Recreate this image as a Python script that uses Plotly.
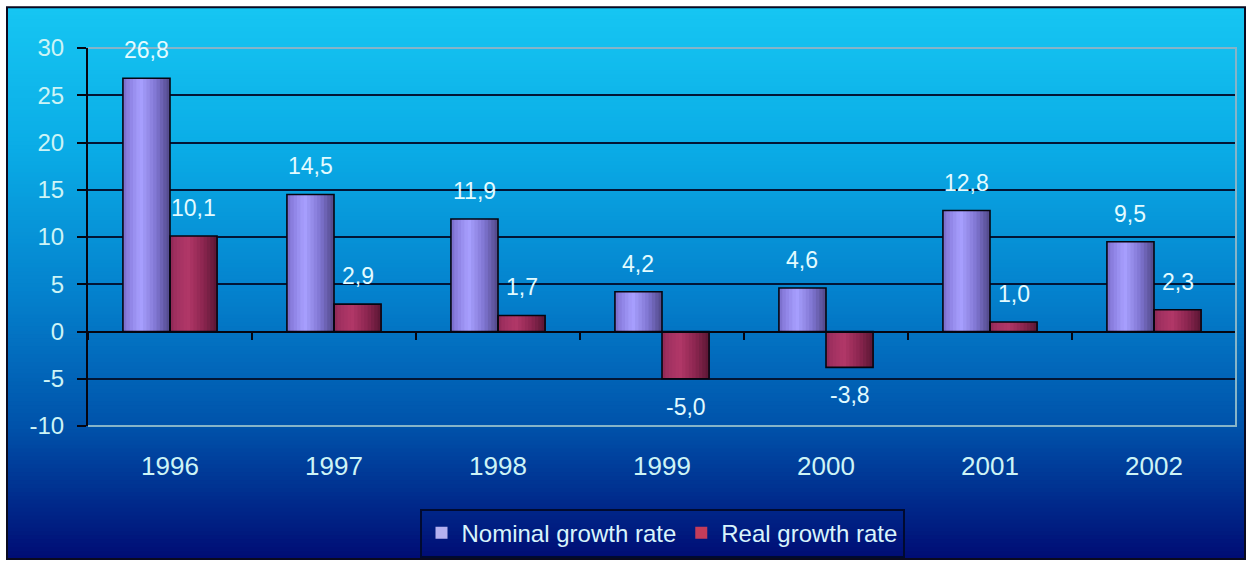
import plotly.graph_objects as go

# ---- data ----
years = ["1996", "1997", "1998", "1999", "2000", "2001", "2002"]
nominal = [26.8, 14.5, 11.9, 4.2, 4.6, 12.8, 9.5]
real = [10.1, 2.9, 1.7, -5.0, -3.8, 1.0, 2.3]
y_ticks = [-10, -5, 0, 5, 10, 15, 20, 25, 30]
y_ticktext = ["-10", "-5", "0", "5", "10", "15", "20", "25", "30"]

# ---- geometry helpers (figure pixels -> paper coords) ----
W, H = 1250, 570
ML, MR, MT, MB = 88, 14, 48, 141
PW, PH = W - ML - MR, H - MT - MB


def PX(px):
    return (px - ML) / PW


def PY(py):
    return (H - MB - py) / PH


def lerp(c1, c2, t):
    return tuple(c1[i] + (c2[i] - c1[i]) * t for i in range(3))


def grad(stops, t):
    for (t0, c0), (t1, c1) in zip(stops, stops[1:]):
        if t0 <= t <= t1:
            return lerp(c0, c1, (t - t0) / (t1 - t0) if t1 > t0 else 0)
    return stops[-1][1]


def rgb(c):
    return "rgb(%d,%d,%d)" % tuple(int(round(v)) for v in c)


xs = list(range(len(years)))
w = 0.287  # bar width in category units
N = 14     # shading strips

nom_prof = [(0.0, (118, 106, 200)), (0.12, (140, 128, 225)), (0.38, (168, 160, 255)),
            (0.7, (128, 118, 210)), (1.0, (80, 72, 135))]
real_prof = [(0.0, (140, 40, 85)), (0.12, (160, 48, 96)), (0.38, (178, 56, 104)),
             (0.7, (140, 38, 80)), (1.0, (90, 22, 52))]

fig = go.Figure()

for name, vals, prof, off0, legc in [
    ("Nominal growth rate", nominal, nom_prof, -w, "rgb(180,176,240)"),
    ("Real growth rate", real, real_prof, 0.0, "rgb(196,60,90)"),
]:
    for k in range(N):
        t = (k + 0.5) / N
        fig.add_trace(go.Bar(
            x=xs, y=vals, width=w - k * w / N, offset=off0 + k * w / N,
            marker=dict(color=rgb(grad(prof, t)), line=dict(width=0)),
            showlegend=False, hoverinfo="skip", name=name,
        ))
    # outline
    fig.add_trace(go.Bar(
        x=xs, y=vals, width=w, offset=off0, xaxis="x2",
        marker=dict(color="rgba(0,0,0,0)", line=dict(color="#050510", width=1.6)),
        showlegend=False, hoverinfo="skip", name=name,
    ))
    # legend entry
    fig.add_trace(go.Bar(
        x=[None], y=[None], name=name,
        marker=dict(color=legc, line=dict(width=0)),
        showlegend=True,
    ))

# ---- data labels ----
lab_color = "#e2fbff"
annotations = []
for vals, sign in [(nominal, -1), (real, 1)]:
    for i, v in enumerate(vals):
        annotations.append(dict(
            x=i + sign * w / 2, y=v, xref="x", yref="y",
            text=f"{v:.1f}".replace(".", ","), showarrow=False,
            yshift=28 if v >= 0 else -28, yanchor="middle",
            font=dict(family="Liberation Sans, Arial, sans-serif", size=23, color=lab_color),
        ))

# ---- background gradient (overlapping strips, no seams) ----
bg_stops = [(7, (22, 198, 242)), (150, (10, 172, 230)), (300, (4, 128, 204)),
            (430, (0, 82, 170)), (563, (0, 12, 116))]
shapes = []
NS = 140
top, bot = 7, 563
for k in range(NS):
    y0 = top + (bot - top) * k / NS
    y1 = top + (bot - top) * (k + 1) / NS
    col = grad(bg_stops, (y0 + y1) / 2)
    shapes.append(dict(type="rect", xref="paper", yref="paper", layer="below",
                       x0=PX(7), x1=PX(1245), y0=PY(bot), y1=PY(y0),
                       fillcolor=rgb(col), line=dict(width=0)))
# outer frame
shapes.append(dict(type="rect", xref="paper", yref="paper", layer="above",
                   x0=PX(7), x1=PX(1245), y0=PY(563), y1=PY(7),
                   line=dict(color="#0a0a20", width=2), fillcolor="rgba(0,0,0,0)"))
# light plot border (top, right, bottom)
shapes.append(dict(type="path", xref="paper", yref="paper", layer="above",
                   path="M 0,1 L 1,1 L 1,0 L 0,0",
                   line=dict(color="#86b4c8", width=2)))

tick_font = dict(family="Liberation Sans, Arial, sans-serif", size=24, color="#cdf4f6")

fig.update_layout(
    width=W, height=H,
    margin=dict(l=ML, r=MR, t=MT, b=MB, pad=0),
    paper_bgcolor="white", plot_bgcolor="rgba(0,0,0,0)",
    barmode="overlay",
    showlegend=True,
    legend=dict(orientation="h", x=0.5, xanchor="center", y=PY(537), yanchor="middle",
                bgcolor="rgba(0,0,0,0)", bordercolor="#000a30", borderwidth=2,
                font=dict(family="Liberation Sans, Arial, sans-serif", size=24, color="#d8f4fc"),
                itemwidth=30, traceorder="normal"),
    xaxis=dict(range=[-0.5, len(years) - 0.5], tickvals=xs, ticktext=years,
               showgrid=False, zeroline=False, showline=False, ticks="",
               tickfont=dict(family="Liberation Sans, Arial, sans-serif", size=26, color="#cdf4f6"),
               ticklabelstandoff=22, fixedrange=True),
    xaxis2=dict(range=[-0.5, len(years) - 0.5], overlaying="x", anchor="free",
                position=(0 - (-10)) / 40, side="bottom",
                tickvals=[i + 0.5 for i in range(-1, len(years))],
                ticks="outside", ticklen=7, tickwidth=1.5, tickcolor="#050510",
                showticklabels=False, showgrid=False, zeroline=False,
                showline=True, linecolor="#050510", linewidth=2),
    yaxis=dict(range=[-10, 30], tickvals=y_ticks, ticktext=y_ticktext, showgrid=True,
               gridcolor="#021535", gridwidth=2, zeroline=False,
               showline=True, linecolor="#050510", linewidth=2,
               ticks="outside", ticklen=9, tickwidth=2, tickcolor="#050510",
               tickfont=tick_font, ticklabelstandoff=8),
    shapes=shapes,
    annotations=annotations,
)

fig.write_html("out.html")
